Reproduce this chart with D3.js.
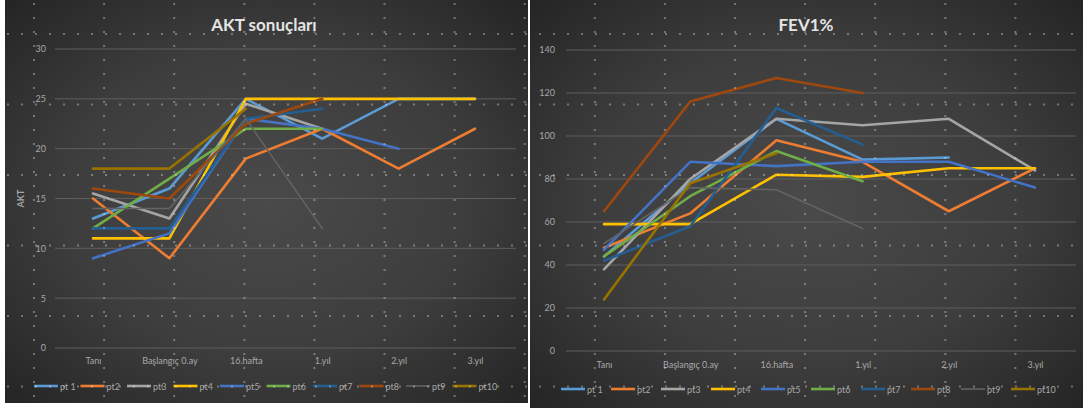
<!DOCTYPE html>
<html>
<head>
<meta charset="utf-8">
<script src="https://cdn.jsdelivr.net/npm/d3@7"></script>
<style>
  html, body { margin: 0; padding: 0; background: #ffffff; }
  svg { display: block; }
  text { font-family: Lato, "Open Sans", "Liberation Sans", sans-serif; }
</style>
</head>
<body>
<svg id="chart" width="1083" height="408"></svg>
<script>
// Visit labels (x axis)
const categories = ["Tanı", "Başlangıç 0.ay", "16.hafta", "1.yıl", "2.yıl", "3.yıl"];
// Patient series names
const seriesNames = ["pt 1", "pt2", "pt3", "pt4", "pt5", "pt6", "pt7", "pt8", "pt9", "pt10"];
// Office-style palette, one colour per patient
const seriesColors = ["#5b9bd5", "#ed7d31", "#a5a5a5", "#ffc000", "#4472c4",
                      "#70ad47", "#255e91", "#9e480e", "#636363", "#997300"];

// AKT scores per patient (null = no visit)
const aktPt1  = [13, 16, 25, 21, 25, 25];
const aktPt2  = [15, 9, 19, 22, 18, 22];
const aktPt3  = [15.5, 13, 24.5, 22, null, null];
const aktPt4  = [11, 11, 25, 25, 25, 25];
const aktPt5  = [9, 11.5, 23, 22, 20, null];
const aktPt6  = [12, 17, 22, 22, null, null];
const aktPt7  = [12, 12, 23, 24, null, null];
const aktPt8  = [16, 15, 22.5, 25, null, null];
const aktPt9  = [14, 14, 23, 12, null, null];
const aktPt10 = [18, 18, 24, null, null, null];

// FEV1% per patient
const fevPt1  = [44, 78, 108, 89, 90, null];
const fevPt2  = [48, 64, 98, 88, 65, 85];
const fevPt3  = [38, 80, 108, 105, 108, 84];
const fevPt4  = [59, 59, 82, 81, 85, 85];
const fevPt5  = [47, 88, 86, 88, 88, 76];
const fevPt6  = [44, 72, 93, 79, null, null];
const fevPt7  = [42, 58, 113, 96, null, null];
const fevPt8  = [65, 116, 127, 120, null, null];
const fevPt9  = [50, 76, 75, 57, null, null];
const fevPt10 = [24, 78, 92, null, null, null];

// Axis ticks
const aktTicks = [0, 5, 10, 15, 20, 25, 30];
const fevTicks = [0, 20, 40, 60, 80, 100, 120, 140];

const aktSeries = [aktPt1, aktPt2, aktPt3, aktPt4, aktPt5, aktPt6, aktPt7, aktPt8, aktPt9, aktPt10];
const fevSeries = [fevPt1, fevPt2, fevPt3, fevPt4, fevPt5, fevPt6, fevPt7, fevPt8, fevPt9, fevPt10];

const svg = d3.select("#chart");
const defs = svg.append("defs");

// Dark panel with a soft vignette
const grad = defs.append("radialGradient").attr("id", "panelBg")
  .attr("cx", "50%").attr("cy", "50%").attr("r", "70%");
grad.append("stop").attr("offset", "0%").attr("stop-color", "#4a4a4a");
grad.append("stop").attr("offset", "55%").attr("stop-color", "#3d3d3d");
grad.append("stop").attr("offset", "100%").attr("stop-color", "#252525");

function drawPanel(cfg) {
  const g = svg.append("g");
  g.append("rect")
    .attr("x", cfg.box[0]).attr("y", cfg.box[1])
    .attr("width", cfg.box[2]).attr("height", cfg.box[3])
    .attr("fill", "url(#panelBg)");

  const x = d3.scalePoint().domain(categories).range(cfg.xRange);
  const y = d3.scaleLinear().domain(cfg.yDomain).range(cfg.yRange);

  // horizontal gridlines
  g.append("g").selectAll("line").data(cfg.ticks).join("line")
    .attr("x1", cfg.gridX[0]).attr("x2", cfg.gridX[1])
    .attr("y1", d => y(d)).attr("y2", d => y(d))
    .attr("stroke", "#5e5e5e").attr("stroke-width", 1);

  // y axis labels
  const yAxis = d3.axisLeft(y).tickValues(cfg.ticks).tickSize(0).tickPadding(0);
  const ya = g.append("g").attr("transform", `translate(${cfg.yLabelX},0)`).call(yAxis);
  ya.select(".domain").remove();
  ya.selectAll("text").attr("fill", "#a8a8a8").style("font-size", "9px")
    .style("font-family", "Lato, 'Open Sans', sans-serif");

  // x axis labels
  const xAxis = d3.axisBottom(x).tickSize(0).tickPadding(0);
  const xa = g.append("g").attr("transform", `translate(0,${cfg.xLabelY})`).call(xAxis);
  xa.select(".domain").remove();
  xa.selectAll("text").attr("fill", "#a8a8a8").style("font-size", "9px")
    .style("font-family", "Lato, 'Open Sans', sans-serif");

  // series lines
  const line = d3.line()
    .defined(d => d != null)
    .x((d, i) => x(categories[i]))
    .y(d => y(d));
  g.append("g").selectAll("path").data(cfg.series).join("path")
    .attr("d", d => line(d))
    .attr("fill", "none")
    .attr("stroke", (d, i) => seriesColors[i])
    .attr("stroke-width", (d, i) => i === 8 ? 1.6 : 2.6)
    .attr("stroke-linejoin", "round")
    .attr("stroke-linecap", "round");

  // title
  g.append("text").attr("x", cfg.titleX).attr("y", 31)
    .attr("text-anchor", "middle")
    .attr("fill", "#e4e4e4").style("font-size", "17px").style("font-weight", "bold")
    .text(cfg.title);

  if (cfg.yTitle) {
    g.append("text")
      .attr("transform", `translate(${cfg.yTitleX},${(cfg.yRange[0] + cfg.yRange[1]) / 2}) rotate(-90)`)
      .attr("text-anchor", "middle").attr("fill", "#a8a8a8")
      .style("font-size", "9px").style("font-weight", "bold")
      .text(cfg.yTitle);
  }

  // legend
  const lg = g.append("g").selectAll("g").data(seriesNames).join("g")
    .attr("transform", (d, i) => `translate(${cfg.legendX + i * cfg.legendStep},${cfg.legendY})`);
  lg.append("line").attr("x1", 0).attr("x2", 24).attr("y1", 0).attr("y2", 0)
    .attr("stroke", (d, i) => seriesColors[i])
    .attr("stroke-width", (d, i) => i === 8 ? 1.6 : 2.6);
  lg.append("text").attr("x", 26).attr("y", 3.5)
    .attr("fill", "#a8a8a8").style("font-size", "9px").text(d => d);
}

drawPanel({
  box: [5, 0, 523, 403],
  xRange: [93, 475], yDomain: [0, 30], yRange: [348, 49],
  ticks: aktTicks, gridX: [55, 516], yLabelX: 46, xLabelY: 358,
  series: aktSeries, title: "AKT sonuçları", titleX: 264,
  yTitle: "AKT", yTitleX: 24,
  legendX: 34, legendStep: 46.5, legendY: 386
});

drawPanel({
  box: [530, 0, 553, 408],
  xRange: [604, 1035], yDomain: [0, 140], yRange: [351, 50],
  ticks: fevTicks, gridX: [566, 1076], yLabelX: 555, xLabelY: 362,
  series: fevSeries, title: "FEV1%", titleX: 806,
  legendX: 561, legendStep: 50, legendY: 389
});

// Dotted guide pattern laid over both panels
const dots = [];
for (let gx = 34; gx < 1083; gx += 70.1) {
  for (let yy = 4; yy < 404; yy += 14) dots.push([gx, yy]);
}
for (let gy = 34; gy < 404; gy += 70.5) {
  for (let xx = 8; xx < 1083; xx += 14) dots.push([xx, gy]);
}
svg.append("g").attr("opacity", 0.32).selectAll("rect").data(dots).join("rect")
  .attr("x", d => d[0] - 1).attr("y", d => d[1] - 1)
  .attr("width", 2).attr("height", 2).attr("fill", "#ffffff");
</script>
</body>
</html>
